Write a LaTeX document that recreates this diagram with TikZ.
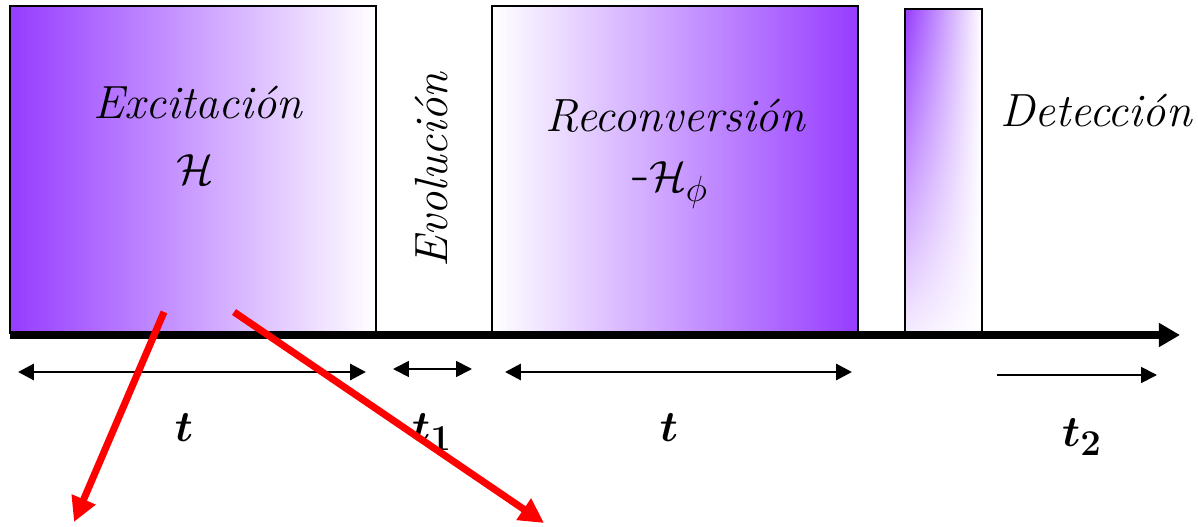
\documentclass[tikz,border=0pt]{standalone}
\usepackage{amsmath}
\usepackage{bm}
\usetikzlibrary{arrows.meta, positioning, shadings}
\definecolor{pulse}{RGB}{150,60,255}

\begin{document}
\begin{tikzpicture}[x=0.02cm, y=-0.02cm,
    pulse/.style={draw, line width=0.8pt},
    phase/.style={font=\itshape\fontsize{26.5}{30}\selectfont},
    ham/.style={font=\fontsize{32}{36}\selectfont},
    tlabel/.style={font=\fontsize{30}{34}\selectfont},
    span/.style={draw, line width=1.7pt, {Triangle[length=9pt,width=9pt]}-{Triangle[length=9pt,width=9pt]}},
    thinspan/.style={draw, line width=1pt, {Triangle[length=9pt,width=9pt]}-{Triangle[length=9pt,width=9pt]}},
    pointer/.style={draw=red, line width=4pt, -{Triangle[length=14pt,width=14pt]}}
]
\useasboundingbox (0,0) rectangle (1198,527);

% Pulses
\draw[pulse, left color=pulse, right color=white] (10,6) rectangle (376,333);
\draw[pulse, left color=white, right color=pulse] (492,6) rectangle (858,333);
\draw[pulse, upper left=pulse, upper right=white, lower left=pulse!10, lower right=white] (905,9) rectangle (982,333);

% Time axis
\coordinate (origin) at (10,335);
\coordinate (tend) at (1180,335);
\draw[line width=4pt, -{Triangle[length=12pt,width=13pt]}] (origin) -- (tend);

% Phase labels
\node[phase] (exc) at (198,103) {Excitaci\'on};
\node[ham] (h) at (195,170) {$\mathcal{H}$};
\node[phase, rotate=90] (evo) at (432,170) {Evoluci\'on};
\node[phase] (rec) at (675,116) {Reconversi\'on};
\node[ham] (hphi) at (670,185) {-$\mathcal{H}_\phi$};
\node[phase] (det) at (1096,111) {Detecci\'on};

% Durations
\coordinate (a1) at (18,372);  \coordinate (b1) at (366,372);
\coordinate (a2) at (393,369); \coordinate (b2) at (472,369);
\coordinate (a3) at (505,372); \coordinate (b3) at (852,372);
\coordinate (a4) at (997,375); \coordinate (b4) at (1157,375);
\draw[span] (a1) -- (b1);
\draw[thinspan] (a2) -- (b2);
\draw[span] (a3) -- (b3);
\draw[line width=1pt, -{Triangle[length=9pt,width=9pt]}] (a4) -- (b4);

\node[tlabel] (t) at (184,428) {$\bm{t}$};
\node[tlabel] (t1) at (432,432) {$\bm{t_1}$};
\node[tlabel] (tt) at (669,428) {$\bm{t}$};
\node[tlabel] (t2) at (1082,437) {$\bm{t_2}$};

% Pointers
\coordinate (p1) at (164,312); \coordinate (q1) at (74,522);
\coordinate (p2) at (234,312); \coordinate (q2) at (544,523);
\draw[pointer] (p1) -- (q1);
\draw[pointer] (p2) -- (q2);

\end{tikzpicture}
\end{document}
